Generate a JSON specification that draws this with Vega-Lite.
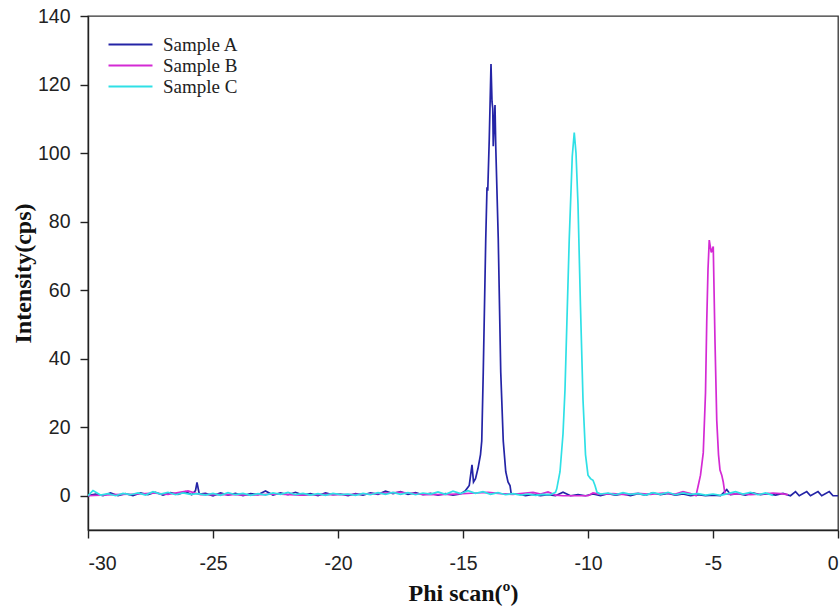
{
  "$schema": "https://vega.github.io/schema/vega-lite/v6.json",
  "width": 750,
  "height": 514,
  "autosize": {"type": "none"},
  "padding": {"left": 88, "top": 16, "right": 2, "bottom": 78},
  "background": "white",
  "config": {
    "view": {"stroke": "#333", "strokeWidth": 1.3},
    "axis": {"grid": false, "domainColor": "#222", "tickColor": "#222", "tickSize": 8, "labelFont": "Liberation Sans", "labelFontSize": 19.5, "labelColor": "#222", "titleFont": "Liberation Serif", "titleFontWeight": "bold", "titleFontSize": 24, "titleColor": "#111", "domainWidth": 1.4, "tickWidth": 1.4}
  },
  "data": {"values": [
    {"phi": -30, "intensity": 0, "sample": "Sample A"},
    {"phi": -29.7, "intensity": 0.5, "sample": "Sample A"},
    {"phi": -29.4, "intensity": 0, "sample": "Sample A"},
    {"phi": -29.1, "intensity": 0.8, "sample": "Sample A"},
    {"phi": -28.8, "intensity": 0, "sample": "Sample A"},
    {"phi": -28.5, "intensity": 0.6, "sample": "Sample A"},
    {"phi": -28.2, "intensity": 0, "sample": "Sample A"},
    {"phi": -27.9, "intensity": 0.8, "sample": "Sample A"},
    {"phi": -27.6, "intensity": 0.3, "sample": "Sample A"},
    {"phi": -27.3, "intensity": 1, "sample": "Sample A"},
    {"phi": -27.0, "intensity": 0.2, "sample": "Sample A"},
    {"phi": -26.7, "intensity": 0.9, "sample": "Sample A"},
    {"phi": -26.4, "intensity": 0.4, "sample": "Sample A"},
    {"phi": -26.1, "intensity": 1.2, "sample": "Sample A"},
    {"phi": -25.85, "intensity": 0.3, "sample": "Sample A"},
    {"phi": -25.7, "intensity": 1.5, "sample": "Sample A"},
    {"phi": -25.64, "intensity": 3.9, "sample": "Sample A"},
    {"phi": -25.55, "intensity": 0.5, "sample": "Sample A"},
    {"phi": -25.3, "intensity": 0.7, "sample": "Sample A"},
    {"phi": -25.0, "intensity": 0, "sample": "Sample A"},
    {"phi": -24.7, "intensity": 0.8, "sample": "Sample A"},
    {"phi": -24.4, "intensity": 0.2, "sample": "Sample A"},
    {"phi": -24.1, "intensity": 0.7, "sample": "Sample A"},
    {"phi": -23.8, "intensity": 0, "sample": "Sample A"},
    {"phi": -23.5, "intensity": 0.6, "sample": "Sample A"},
    {"phi": -23.2, "intensity": 0.3, "sample": "Sample A"},
    {"phi": -22.9, "intensity": 1.4, "sample": "Sample A"},
    {"phi": -22.6, "intensity": 0.2, "sample": "Sample A"},
    {"phi": -22.3, "intensity": 0.8, "sample": "Sample A"},
    {"phi": -22.0, "intensity": 0.3, "sample": "Sample A"},
    {"phi": -21.7, "intensity": 1, "sample": "Sample A"},
    {"phi": -21.4, "intensity": 0.2, "sample": "Sample A"},
    {"phi": -21.1, "intensity": 0.6, "sample": "Sample A"},
    {"phi": -20.8, "intensity": 0, "sample": "Sample A"},
    {"phi": -20.5, "intensity": 0.8, "sample": "Sample A"},
    {"phi": -20.2, "intensity": 0.3, "sample": "Sample A"},
    {"phi": -19.9, "intensity": 0.5, "sample": "Sample A"},
    {"phi": -19.6, "intensity": 0, "sample": "Sample A"},
    {"phi": -19.3, "intensity": 0.6, "sample": "Sample A"},
    {"phi": -19.0, "intensity": 0.2, "sample": "Sample A"},
    {"phi": -18.7, "intensity": 0.8, "sample": "Sample A"},
    {"phi": -18.4, "intensity": 0.4, "sample": "Sample A"},
    {"phi": -18.1, "intensity": 1.3, "sample": "Sample A"},
    {"phi": -17.8, "intensity": 0.6, "sample": "Sample A"},
    {"phi": -17.5, "intensity": 1.2, "sample": "Sample A"},
    {"phi": -17.2, "intensity": 0.4, "sample": "Sample A"},
    {"phi": -16.9, "intensity": 0.9, "sample": "Sample A"},
    {"phi": -16.6, "intensity": 0.3, "sample": "Sample A"},
    {"phi": -16.3, "intensity": 0.7, "sample": "Sample A"},
    {"phi": -16.0, "intensity": 0.2, "sample": "Sample A"},
    {"phi": -15.7, "intensity": 0.6, "sample": "Sample A"},
    {"phi": -15.4, "intensity": 0.2, "sample": "Sample A"},
    {"phi": -15.1, "intensity": 0.5, "sample": "Sample A"},
    {"phi": -14.9, "intensity": 1.5, "sample": "Sample A"},
    {"phi": -14.75, "intensity": 3, "sample": "Sample A"},
    {"phi": -14.64, "intensity": 9, "sample": "Sample A"},
    {"phi": -14.58, "intensity": 4, "sample": "Sample A"},
    {"phi": -14.5, "intensity": 5, "sample": "Sample A"},
    {"phi": -14.4, "intensity": 8, "sample": "Sample A"},
    {"phi": -14.3, "intensity": 12, "sample": "Sample A"},
    {"phi": -14.25, "intensity": 16, "sample": "Sample A"},
    {"phi": -14.19, "intensity": 36, "sample": "Sample A"},
    {"phi": -14.09, "intensity": 75, "sample": "Sample A"},
    {"phi": -14.04, "intensity": 90, "sample": "Sample A"},
    {"phi": -14.01, "intensity": 89, "sample": "Sample A"},
    {"phi": -13.95, "intensity": 104, "sample": "Sample A"},
    {"phi": -13.88, "intensity": 126, "sample": "Sample A"},
    {"phi": -13.84, "intensity": 115, "sample": "Sample A"},
    {"phi": -13.81, "intensity": 113, "sample": "Sample A"},
    {"phi": -13.79, "intensity": 102, "sample": "Sample A"},
    {"phi": -13.72, "intensity": 114, "sample": "Sample A"},
    {"phi": -13.69, "intensity": 102, "sample": "Sample A"},
    {"phi": -13.59, "intensity": 75, "sample": "Sample A"},
    {"phi": -13.49, "intensity": 36, "sample": "Sample A"},
    {"phi": -13.39, "intensity": 16, "sample": "Sample A"},
    {"phi": -13.29, "intensity": 7, "sample": "Sample A"},
    {"phi": -13.2, "intensity": 4, "sample": "Sample A"},
    {"phi": -13.12, "intensity": 3, "sample": "Sample A"},
    {"phi": -13.07, "intensity": 0.5, "sample": "Sample A"},
    {"phi": -12.8, "intensity": 0.5, "sample": "Sample A"},
    {"phi": -12.5, "intensity": 0, "sample": "Sample A"},
    {"phi": -12.2, "intensity": 0.4, "sample": "Sample A"},
    {"phi": -11.9, "intensity": 0, "sample": "Sample A"},
    {"phi": -11.6, "intensity": 0.3, "sample": "Sample A"},
    {"phi": -11.3, "intensity": 0, "sample": "Sample A"},
    {"phi": -11.0, "intensity": 1, "sample": "Sample A"},
    {"phi": -10.7, "intensity": 0, "sample": "Sample A"},
    {"phi": -10.4, "intensity": 0.3, "sample": "Sample A"},
    {"phi": -10.1, "intensity": 0, "sample": "Sample A"},
    {"phi": -9.8, "intensity": 0.5, "sample": "Sample A"},
    {"phi": -9.5, "intensity": 0, "sample": "Sample A"},
    {"phi": -9.2, "intensity": 0.6, "sample": "Sample A"},
    {"phi": -8.9, "intensity": 0.2, "sample": "Sample A"},
    {"phi": -8.6, "intensity": 0.5, "sample": "Sample A"},
    {"phi": -8.3, "intensity": 0, "sample": "Sample A"},
    {"phi": -8.0, "intensity": 0.6, "sample": "Sample A"},
    {"phi": -7.7, "intensity": 0.2, "sample": "Sample A"},
    {"phi": -7.4, "intensity": 0.8, "sample": "Sample A"},
    {"phi": -7.1, "intensity": 0.3, "sample": "Sample A"},
    {"phi": -6.8, "intensity": 0.7, "sample": "Sample A"},
    {"phi": -6.5, "intensity": 0.2, "sample": "Sample A"},
    {"phi": -6.2, "intensity": 0.5, "sample": "Sample A"},
    {"phi": -5.9, "intensity": 0, "sample": "Sample A"},
    {"phi": -5.6, "intensity": 0.3, "sample": "Sample A"},
    {"phi": -5.3, "intensity": 0, "sample": "Sample A"},
    {"phi": -5.0, "intensity": 0.2, "sample": "Sample A"},
    {"phi": -4.7, "intensity": 0, "sample": "Sample A"},
    {"phi": -4.45, "intensity": 1.8, "sample": "Sample A"},
    {"phi": -4.3, "intensity": 0.3, "sample": "Sample A"},
    {"phi": -4.0, "intensity": 0.6, "sample": "Sample A"},
    {"phi": -3.7, "intensity": 0.2, "sample": "Sample A"},
    {"phi": -3.4, "intensity": 0.8, "sample": "Sample A"},
    {"phi": -3.1, "intensity": 0.3, "sample": "Sample A"},
    {"phi": -2.8, "intensity": 0.6, "sample": "Sample A"},
    {"phi": -2.5, "intensity": 0.2, "sample": "Sample A"},
    {"phi": -2.2, "intensity": 0.7, "sample": "Sample A"},
    {"phi": -1.9, "intensity": 0, "sample": "Sample A"},
    {"phi": -1.7, "intensity": 1.2, "sample": "Sample A"},
    {"phi": -1.55, "intensity": 0, "sample": "Sample A"},
    {"phi": -1.25, "intensity": 1.2, "sample": "Sample A"},
    {"phi": -1.1, "intensity": 0, "sample": "Sample A"},
    {"phi": -0.8, "intensity": 1.2, "sample": "Sample A"},
    {"phi": -0.65, "intensity": 0, "sample": "Sample A"},
    {"phi": -0.35, "intensity": 1.2, "sample": "Sample A"},
    {"phi": -0.2, "intensity": 0, "sample": "Sample A"},
    {"phi": 0, "intensity": 0, "sample": "Sample A"},

    {"phi": -30, "intensity": 0, "sample": "Sample B"},
    {"phi": -29, "intensity": 0.3, "sample": "Sample B"},
    {"phi": -28, "intensity": 0.5, "sample": "Sample B"},
    {"phi": -27.4, "intensity": 0.8, "sample": "Sample B"},
    {"phi": -26.8, "intensity": 0.4, "sample": "Sample B"},
    {"phi": -26.0, "intensity": 1.4, "sample": "Sample B"},
    {"phi": -25.5, "intensity": 0.3, "sample": "Sample B"},
    {"phi": -24.5, "intensity": 0.4, "sample": "Sample B"},
    {"phi": -23.5, "intensity": 0.2, "sample": "Sample B"},
    {"phi": -22.5, "intensity": 0.5, "sample": "Sample B"},
    {"phi": -21.5, "intensity": 0.2, "sample": "Sample B"},
    {"phi": -20.5, "intensity": 0.4, "sample": "Sample B"},
    {"phi": -19.5, "intensity": 0.3, "sample": "Sample B"},
    {"phi": -18.5, "intensity": 0.6, "sample": "Sample B"},
    {"phi": -17.5, "intensity": 1.0, "sample": "Sample B"},
    {"phi": -16.5, "intensity": 0.3, "sample": "Sample B"},
    {"phi": -15.5, "intensity": 0.4, "sample": "Sample B"},
    {"phi": -14.5, "intensity": 0.8, "sample": "Sample B"},
    {"phi": -14, "intensity": 1, "sample": "Sample B"},
    {"phi": -13.5, "intensity": 0.6, "sample": "Sample B"},
    {"phi": -13, "intensity": 0.4, "sample": "Sample B"},
    {"phi": -12.5, "intensity": 0.8, "sample": "Sample B"},
    {"phi": -12.2, "intensity": 1, "sample": "Sample B"},
    {"phi": -11.9, "intensity": 0.5, "sample": "Sample B"},
    {"phi": -11.6, "intensity": 1.1, "sample": "Sample B"},
    {"phi": -11.3, "intensity": 0.2, "sample": "Sample B"},
    {"phi": -11, "intensity": 0, "sample": "Sample B"},
    {"phi": -10.5, "intensity": 0, "sample": "Sample B"},
    {"phi": -10, "intensity": 0, "sample": "Sample B"},
    {"phi": -9.8, "intensity": 0.8, "sample": "Sample B"},
    {"phi": -9.5, "intensity": 0.4, "sample": "Sample B"},
    {"phi": -9, "intensity": 0.6, "sample": "Sample B"},
    {"phi": -8.5, "intensity": 0.3, "sample": "Sample B"},
    {"phi": -8, "intensity": 0.7, "sample": "Sample B"},
    {"phi": -7.5, "intensity": 0.4, "sample": "Sample B"},
    {"phi": -7, "intensity": 0.8, "sample": "Sample B"},
    {"phi": -6.5, "intensity": 0.5, "sample": "Sample B"},
    {"phi": -6.2, "intensity": 1.2, "sample": "Sample B"},
    {"phi": -5.9, "intensity": 0.6, "sample": "Sample B"},
    {"phi": -5.68, "intensity": 0, "sample": "Sample B"},
    {"phi": -5.59, "intensity": 3, "sample": "Sample B"},
    {"phi": -5.5, "intensity": 6, "sample": "Sample B"},
    {"phi": -5.39, "intensity": 12.5, "sample": "Sample B"},
    {"phi": -5.3, "intensity": 30, "sample": "Sample B"},
    {"phi": -5.25, "intensity": 51, "sample": "Sample B"},
    {"phi": -5.2, "intensity": 66, "sample": "Sample B"},
    {"phi": -5.15, "intensity": 74.6, "sample": "Sample B"},
    {"phi": -5.07, "intensity": 71, "sample": "Sample B"},
    {"phi": -4.99, "intensity": 72.7, "sample": "Sample B"},
    {"phi": -4.92, "intensity": 45, "sample": "Sample B"},
    {"phi": -4.85, "intensity": 22, "sample": "Sample B"},
    {"phi": -4.78, "intensity": 12, "sample": "Sample B"},
    {"phi": -4.72, "intensity": 7.5, "sample": "Sample B"},
    {"phi": -4.65, "intensity": 6, "sample": "Sample B"},
    {"phi": -4.59, "intensity": 4, "sample": "Sample B"},
    {"phi": -4.52, "intensity": 0.5, "sample": "Sample B"},
    {"phi": -4.3, "intensity": 0.4, "sample": "Sample B"},
    {"phi": -4, "intensity": 0.6, "sample": "Sample B"},
    {"phi": -3.5, "intensity": 0.3, "sample": "Sample B"},
    {"phi": -3, "intensity": 0.5, "sample": "Sample B"},
    {"phi": -2.6, "intensity": 0.8, "sample": "Sample B"},
    {"phi": -2.3, "intensity": 0.6, "sample": "Sample B"},
    {"phi": -2.0, "intensity": 0.3, "sample": "Sample B"},

    {"phi": -30, "intensity": 0, "sample": "Sample C"},
    {"phi": -29.8, "intensity": 1.5, "sample": "Sample C"},
    {"phi": -29.5, "intensity": 0.2, "sample": "Sample C"},
    {"phi": -29.2, "intensity": 0.6, "sample": "Sample C"},
    {"phi": -28.9, "intensity": 0, "sample": "Sample C"},
    {"phi": -28.6, "intensity": 0.7, "sample": "Sample C"},
    {"phi": -28.3, "intensity": 0.3, "sample": "Sample C"},
    {"phi": -28.0, "intensity": 0.8, "sample": "Sample C"},
    {"phi": -27.7, "intensity": 0.2, "sample": "Sample C"},
    {"phi": -27.4, "intensity": 1.2, "sample": "Sample C"},
    {"phi": -27.1, "intensity": 0.5, "sample": "Sample C"},
    {"phi": -26.8, "intensity": 1, "sample": "Sample C"},
    {"phi": -26.5, "intensity": 0.3, "sample": "Sample C"},
    {"phi": -26.2, "intensity": 0.8, "sample": "Sample C"},
    {"phi": -25.9, "intensity": 0.4, "sample": "Sample C"},
    {"phi": -25.6, "intensity": 0.6, "sample": "Sample C"},
    {"phi": -25.3, "intensity": 0.2, "sample": "Sample C"},
    {"phi": -25.0, "intensity": 0.7, "sample": "Sample C"},
    {"phi": -24.7, "intensity": 0.1, "sample": "Sample C"},
    {"phi": -24.4, "intensity": 0.9, "sample": "Sample C"},
    {"phi": -24.1, "intensity": 0.3, "sample": "Sample C"},
    {"phi": -23.8, "intensity": 0.7, "sample": "Sample C"},
    {"phi": -23.5, "intensity": 0.1, "sample": "Sample C"},
    {"phi": -23.2, "intensity": 0.6, "sample": "Sample C"},
    {"phi": -22.9, "intensity": 0.2, "sample": "Sample C"},
    {"phi": -22.6, "intensity": 0.8, "sample": "Sample C"},
    {"phi": -22.3, "intensity": 0.4, "sample": "Sample C"},
    {"phi": -22.0, "intensity": 1, "sample": "Sample C"},
    {"phi": -21.7, "intensity": 0.3, "sample": "Sample C"},
    {"phi": -21.4, "intensity": 0.7, "sample": "Sample C"},
    {"phi": -21.1, "intensity": 0.2, "sample": "Sample C"},
    {"phi": -20.8, "intensity": 0.6, "sample": "Sample C"},
    {"phi": -20.5, "intensity": 0.1, "sample": "Sample C"},
    {"phi": -20.2, "intensity": 0.7, "sample": "Sample C"},
    {"phi": -19.9, "intensity": 0.3, "sample": "Sample C"},
    {"phi": -19.6, "intensity": 0.5, "sample": "Sample C"},
    {"phi": -19.3, "intensity": 0.1, "sample": "Sample C"},
    {"phi": -19.0, "intensity": 0.7, "sample": "Sample C"},
    {"phi": -18.7, "intensity": 0.3, "sample": "Sample C"},
    {"phi": -18.4, "intensity": 0.9, "sample": "Sample C"},
    {"phi": -18.1, "intensity": 0.4, "sample": "Sample C"},
    {"phi": -17.8, "intensity": 1, "sample": "Sample C"},
    {"phi": -17.5, "intensity": 0.4, "sample": "Sample C"},
    {"phi": -17.2, "intensity": 0.9, "sample": "Sample C"},
    {"phi": -16.9, "intensity": 0.3, "sample": "Sample C"},
    {"phi": -16.6, "intensity": 0.8, "sample": "Sample C"},
    {"phi": -16.3, "intensity": 0.5, "sample": "Sample C"},
    {"phi": -16.0, "intensity": 1.1, "sample": "Sample C"},
    {"phi": -15.7, "intensity": 0.4, "sample": "Sample C"},
    {"phi": -15.4, "intensity": 1.3, "sample": "Sample C"},
    {"phi": -15.1, "intensity": 0.6, "sample": "Sample C"},
    {"phi": -14.8, "intensity": 1.5, "sample": "Sample C"},
    {"phi": -14.5, "intensity": 0.7, "sample": "Sample C"},
    {"phi": -14.2, "intensity": 1.2, "sample": "Sample C"},
    {"phi": -13.9, "intensity": 0.4, "sample": "Sample C"},
    {"phi": -13.6, "intensity": 0.9, "sample": "Sample C"},
    {"phi": -13.3, "intensity": 0.3, "sample": "Sample C"},
    {"phi": -13.0, "intensity": 0.6, "sample": "Sample C"},
    {"phi": -12.7, "intensity": 0.2, "sample": "Sample C"},
    {"phi": -12.4, "intensity": 0.5, "sample": "Sample C"},
    {"phi": -12.1, "intensity": 0.1, "sample": "Sample C"},
    {"phi": -11.8, "intensity": 0.4, "sample": "Sample C"},
    {"phi": -11.5, "intensity": 0.3, "sample": "Sample C"},
    {"phi": -11.3, "intensity": 1, "sample": "Sample C"},
    {"phi": -11.25, "intensity": 2, "sample": "Sample C"},
    {"phi": -11.12, "intensity": 7, "sample": "Sample C"},
    {"phi": -11.0, "intensity": 18, "sample": "Sample C"},
    {"phi": -10.92, "intensity": 31, "sample": "Sample C"},
    {"phi": -10.75, "intensity": 75, "sample": "Sample C"},
    {"phi": -10.63, "intensity": 99, "sample": "Sample C"},
    {"phi": -10.55, "intensity": 106, "sample": "Sample C"},
    {"phi": -10.48, "intensity": 100, "sample": "Sample C"},
    {"phi": -10.4, "intensity": 85, "sample": "Sample C"},
    {"phi": -10.3, "intensity": 55, "sample": "Sample C"},
    {"phi": -10.2, "intensity": 28, "sample": "Sample C"},
    {"phi": -10.1, "intensity": 12, "sample": "Sample C"},
    {"phi": -10.0, "intensity": 6, "sample": "Sample C"},
    {"phi": -9.9, "intensity": 5, "sample": "Sample C"},
    {"phi": -9.8, "intensity": 4.5, "sample": "Sample C"},
    {"phi": -9.72, "intensity": 3, "sample": "Sample C"},
    {"phi": -9.64, "intensity": 1, "sample": "Sample C"},
    {"phi": -9.5, "intensity": 0.5, "sample": "Sample C"},
    {"phi": -9.2, "intensity": 0.8, "sample": "Sample C"},
    {"phi": -8.9, "intensity": 0.3, "sample": "Sample C"},
    {"phi": -8.6, "intensity": 0.9, "sample": "Sample C"},
    {"phi": -8.3, "intensity": 0.4, "sample": "Sample C"},
    {"phi": -8.0, "intensity": 0.7, "sample": "Sample C"},
    {"phi": -7.7, "intensity": 0.2, "sample": "Sample C"},
    {"phi": -7.4, "intensity": 0.9, "sample": "Sample C"},
    {"phi": -7.1, "intensity": 0.4, "sample": "Sample C"},
    {"phi": -6.8, "intensity": 1, "sample": "Sample C"},
    {"phi": -6.5, "intensity": 0.3, "sample": "Sample C"},
    {"phi": -6.2, "intensity": 0.8, "sample": "Sample C"},
    {"phi": -5.9, "intensity": 0.4, "sample": "Sample C"},
    {"phi": -5.6, "intensity": 0.6, "sample": "Sample C"},
    {"phi": -5.3, "intensity": 0.2, "sample": "Sample C"},
    {"phi": -5.0, "intensity": 0.5, "sample": "Sample C"},
    {"phi": -4.7, "intensity": 0.1, "sample": "Sample C"},
    {"phi": -4.4, "intensity": 0.6, "sample": "Sample C"},
    {"phi": -4.1, "intensity": 1.2, "sample": "Sample C"},
    {"phi": -3.8, "intensity": 0.5, "sample": "Sample C"},
    {"phi": -3.5, "intensity": 1, "sample": "Sample C"},
    {"phi": -3.2, "intensity": 0.3, "sample": "Sample C"},
    {"phi": -2.9, "intensity": 0.8, "sample": "Sample C"},
    {"phi": -2.6, "intensity": 0.1, "sample": "Sample C"}
  ]},
  "mark": {"type": "line", "strokeWidth": 1.7, "clip": true},
  "encoding": {
    "x": {
      "field": "phi", "type": "quantitative",
      "scale": {"domain": [-30, 0], "nice": false},
      "axis": {"values": [-30, -25, -20, -15, -10, -5, 0], "labelExpr": "toString(datum.value)", "title": "Phi scan(º)", "labelPadding": 16, "titlePadding": 9}
    },
    "y": {
      "field": "intensity", "type": "quantitative",
      "scale": {"domain": [-10, 140], "nice": false, "zero": false},
      "axis": {"values": [0, 20, 40, 60, 80, 100, 120, 140], "title": "Intensity(cps)", "labelPadding": 10, "titlePadding": 2}
    },
    "color": {
      "field": "sample", "type": "nominal",
      "scale": {"domain": ["Sample A", "Sample B", "Sample C"], "range": ["#2424a6", "#d42ad4", "#2fe0e6"]},
      "legend": {
        "title": null, "orient": "none", "legendX": 33, "legendY": 19,
        "symbolType": "M-3,0H3", "symbolSize": 215, "symbolStrokeWidth": 2.2,
        "labelFont": "Liberation Serif", "labelFontSize": 19, "labelColor": "#222",
        "rowPadding": 1, "labelOffset": 23
      }
    }
  }
}
